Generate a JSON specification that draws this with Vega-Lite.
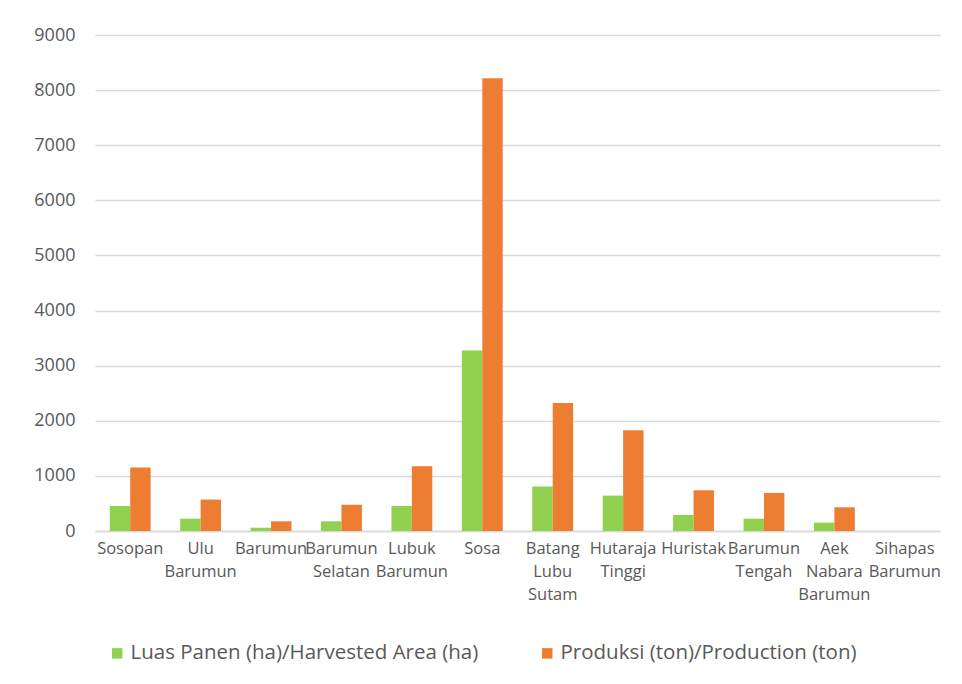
{
  "$schema": "https://vega.github.io/schema/vega-lite/v6.json",
  "autosize": "none",
  "width": 845,
  "height": 496,
  "padding": {"left": 95, "top": 35, "right": 22, "bottom": 153},
  "background": "white",
  "config": {
    "font": "Open Sans",
    "view": {"stroke": null}
  },
  "data": {
    "values": [
      {"kecamatan": "Sosopan", "seri": "Luas Panen (ha)/Harvested Area (ha)", "nilai": 455},
      {"kecamatan": "Sosopan", "seri": "Produksi (ton)/Production (ton)", "nilai": 1151},
      {"kecamatan": "Ulu Barumun", "seri": "Luas Panen (ha)/Harvested Area (ha)", "nilai": 224},
      {"kecamatan": "Ulu Barumun", "seri": "Produksi (ton)/Production (ton)", "nilai": 570},
      {"kecamatan": "Barumun", "seri": "Luas Panen (ha)/Harvested Area (ha)", "nilai": 60},
      {"kecamatan": "Barumun", "seri": "Produksi (ton)/Production (ton)", "nilai": 176},
      {"kecamatan": "Barumun Selatan", "seri": "Luas Panen (ha)/Harvested Area (ha)", "nilai": 176},
      {"kecamatan": "Barumun Selatan", "seri": "Produksi (ton)/Production (ton)", "nilai": 478},
      {"kecamatan": "Lubuk Barumun", "seri": "Luas Panen (ha)/Harvested Area (ha)", "nilai": 455},
      {"kecamatan": "Lubuk Barumun", "seri": "Produksi (ton)/Production (ton)", "nilai": 1176},
      {"kecamatan": "Sosa", "seri": "Luas Panen (ha)/Harvested Area (ha)", "nilai": 3273},
      {"kecamatan": "Sosa", "seri": "Produksi (ton)/Production (ton)", "nilai": 8215},
      {"kecamatan": "Batang Lubu Sutam", "seri": "Luas Panen (ha)/Harvested Area (ha)", "nilai": 806},
      {"kecamatan": "Batang Lubu Sutam", "seri": "Produksi (ton)/Production (ton)", "nilai": 2321},
      {"kecamatan": "Hutaraja Tinggi", "seri": "Luas Panen (ha)/Harvested Area (ha)", "nilai": 642},
      {"kecamatan": "Hutaraja Tinggi", "seri": "Produksi (ton)/Production (ton)", "nilai": 1830},
      {"kecamatan": "Huristak", "seri": "Luas Panen (ha)/Harvested Area (ha)", "nilai": 291},
      {"kecamatan": "Huristak", "seri": "Produksi (ton)/Production (ton)", "nilai": 739},
      {"kecamatan": "Barumun Tengah", "seri": "Luas Panen (ha)/Harvested Area (ha)", "nilai": 224},
      {"kecamatan": "Barumun Tengah", "seri": "Produksi (ton)/Production (ton)", "nilai": 691},
      {"kecamatan": "Aek Nabara Barumun", "seri": "Luas Panen (ha)/Harvested Area (ha)", "nilai": 152},
      {"kecamatan": "Aek Nabara Barumun", "seri": "Produksi (ton)/Production (ton)", "nilai": 430},
      {"kecamatan": "Sihapas Barumun", "seri": "Luas Panen (ha)/Harvested Area (ha)", "nilai": 0},
      {"kecamatan": "Sihapas Barumun", "seri": "Produksi (ton)/Production (ton)", "nilai": 0}
    ]
  },
  "mark": {"type": "bar"},
  "encoding": {
    "x": {
      "field": "kecamatan",
      "type": "nominal",
      "sort": null,
      "scale": {"paddingInner": 0.42, "paddingOuter": 0.21},
      "axis": {
        "title": null,
        "labelAngle": 0,
        "labelExpr": "split(datum.label, ' ')",
        "labelFontSize": 16.5,
        "labelColor": "#595959",
        "labelPadding": 9,
        "labelLineHeight": 23,
        "labelBaseline": "top",
        "ticks": false,
        "domainColor": "#D9D9D9",
        "domainWidth": 1.5,
        "labelLimit": 200
      }
    },
    "xOffset": {"field": "seri", "type": "nominal", "scale": {"paddingInner": 0}},
    "y": {
      "field": "nilai",
      "type": "quantitative",
      "scale": {"domain": [0, 9000]},
      "axis": {
        "title": null,
        "format": "d",
        "values": [0, 1000, 2000, 3000, 4000, 5000, 6000, 7000, 8000, 9000],
        "domain": false,
        "ticks": false,
        "labelFontSize": 18,
        "labelColor": "#595959",
        "labelPadding": 20,
        "gridColor": "#D9D9D9",
        "gridWidth": 1.5
      }
    },
    "color": {
      "field": "seri",
      "type": "nominal",
      "scale": {
        "domain": ["Luas Panen (ha)/Harvested Area (ha)", "Produksi (ton)/Production (ton)"],
        "range": ["#92D050", "#ED7D31"]
      },
      "legend": {
        "title": null,
        "orient": "none",
        "legendX": 12,
        "legendY": 608,
        "direction": "horizontal",
        "symbolType": "square",
        "symbolSize": 110,
        "symbolOffset": 0,
        "labelOffset": 3,
        "labelFontSize": 20.5,
        "labelColor": "#595959",
        "columnPadding": 58,
        "labelLimit": 500
      }
    }
  }
}
